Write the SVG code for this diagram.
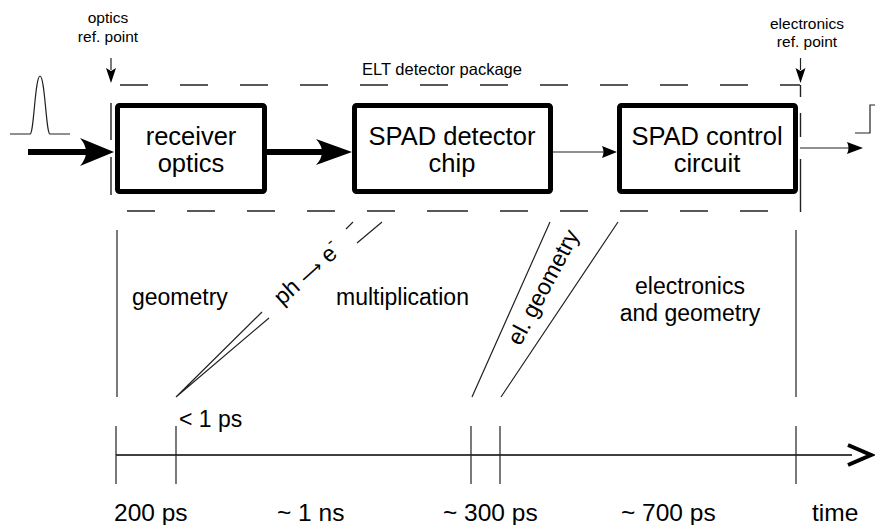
<svg xmlns="http://www.w3.org/2000/svg" width="875" height="525" viewBox="0 0 875 525">
<style>
text{font-family:"Liberation Sans",Arial,sans-serif;fill:#000}
.sm{font-size:15.5px;text-anchor:middle}
.md{font-size:16.5px;text-anchor:middle}
.bx{font-size:25.5px;text-anchor:middle}
.lb{font-size:23px}
.bt{font-size:24.5px}
.box{fill:#fff;stroke:#000;stroke-width:5}
.thin{fill:none;stroke:#222;stroke-width:1.2}
.dash{fill:none;stroke:#222;stroke-width:1.4}
.thick{fill:none;stroke:#000;stroke-width:6}
</style>
<rect width="875" height="525" fill="#fff"/>
<g id="package">
<text class="md" x="442" y="75">ELT detector package</text>
<line class="dash" x1="120" y1="85" x2="800" y2="85" stroke-dasharray="28 32"/>
<path class="dash" d="M127,211H155M187,211H215M247,211H275M307,211H335M367,211H395M427,211H468M500,211H528M560,211H588M620,211H648M680,211H708M740,211H768"/>
<path class="dash" d="M111,103V140M111,157V195M800.5,85V97M800.5,113V137M800.5,159V212"/>
</g>
<g id="optics-ref">
<text class="sm" x="108" y="23">optics</text>
<text class="sm" x="108" y="42">ref. point</text>
<path class="thin" d="M111,58V70"/>
<path d="M106,68L111,83L116,68L111,71Z" fill="#000"/>
</g>
<g id="electronics-ref">
<text class="sm" x="807" y="29">electronics</text>
<text class="sm" x="807" y="47">ref. point</text>
<path class="thin" d="M800.5,58V70"/>
<path d="M795.5,68L800.5,83L805.5,68L800.5,71Z" fill="#000"/>
</g>
<g id="pulse">
<path class="thin" d="M10,134H30C34,134 35,76 40,76C45,76 46,134 50,134H70"/>
</g>
<g id="receiver-optics">
<rect class="box" x="117.5" y="105.5" width="147" height="86" rx="2"/>
<text class="bx" x="191" y="145">receiver</text>
<text class="bx" x="191" y="172">optics</text>
</g>
<g id="spad-chip">
<rect class="box" x="354.5" y="105.5" width="196" height="86" rx="2"/>
<text class="bx" x="452" y="145">SPAD detector</text>
<text class="bx" x="452" y="172">chip</text>
</g>
<g id="spad-control">
<rect class="box" x="619.5" y="105.5" width="176" height="86" rx="2"/>
<text class="bx" x="707" y="145">SPAD control</text>
<text class="bx" x="707" y="172">circuit</text>
</g>
<g id="step">
<path class="thin" d="M855,133H870V105H876"/>
</g>
<g id="connectors">
<line class="thick" x1="28" y1="152" x2="86" y2="152"/>
<path d="M114,152L80,138Q92,152 80,166Z" fill="#000"/>
<line class="thick" x1="267" y1="152" x2="322" y2="152"/>
<path d="M352,152L316,139Q328,152 316,165Z" fill="#000"/>
<line class="thin" x1="553" y1="152" x2="606" y2="152"/>
<path d="M617,152L602,146Q605,152 602,158Z" fill="#000"/>
<line class="thin" x1="800" y1="148" x2="850" y2="148"/>
<path d="M863,148L847,142Q850,148 847,154Z" fill="#000"/>
</g>
<g id="phases">
<path class="thin" d="M117,230V397M796,230V397"/>
<path class="thin" d="M176,397L262,312M346,229L353,222M176,397L269,318M357,243L382,222"/>
<path class="thin" d="M472,397L550,222M501,397L618,222"/>
<text class="lb" font-size="25" transform="translate(307,273) rotate(-42)" x="0" y="8" text-anchor="middle">ph <tspan font-family="DejaVu Sans" font-size="17">⟶</tspan> e<tspan dy="-11" font-size="16">-</tspan></text>
<text class="lb" font-size="24.5" transform="translate(543,287) rotate(-62)" x="0" y="8" text-anchor="middle">el. geometry</text>
<text class="lb" x="132" y="305">geometry</text>
<text class="lb" x="336" y="305" font-size="22">multiplication</text>
<text class="lb" x="690" y="294" text-anchor="middle">electronics</text>
<text class="lb" x="690" y="321" text-anchor="middle">and geometry</text>
</g>
<g id="timeline">
<line x1="116" y1="455" x2="852" y2="455" stroke="#000" stroke-width="1.5"/>
<path d="M848,445L871,455L848,465" fill="none" stroke="#000" stroke-width="4"/>
<path class="thin" d="M116,426V484M176,426V484M471,426V484M500,426V484M796,426V484"/>
<text class="lb" x="179" y="427">&lt; 1 ps</text>
<text class="bt" x="114" y="521">200 ps</text>
<text class="bt" x="277" y="521">~ 1 ns</text>
<text class="bt" x="443" y="521">~ 300 ps</text>
<text class="bt" x="621" y="521">~ 700 ps</text>
<text class="bt" x="812" y="521">time</text>
</g>
</svg>
